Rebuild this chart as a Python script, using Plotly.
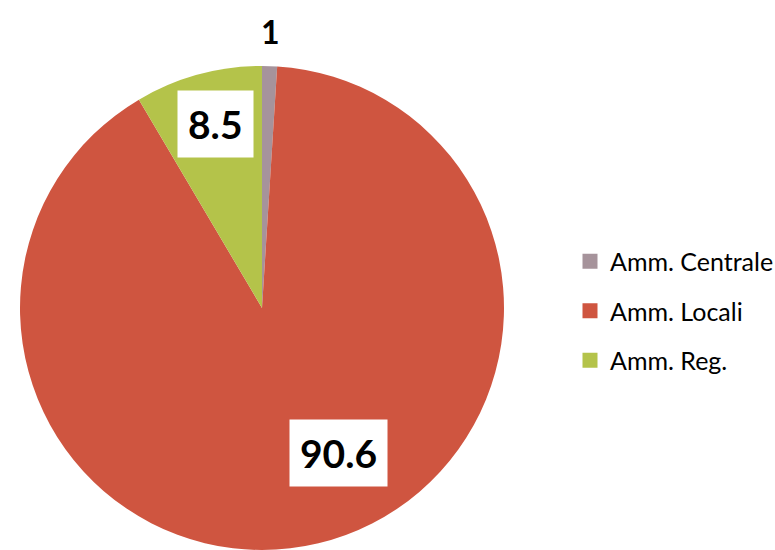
import plotly.graph_objects as go

# ---- data ----
categories = ["Amm. Centrale", "Amm. Locali", "Amm. Reg."]
values = [1, 90.6, 8.5]
value_labels = ["1", "90.6", "8.5"]

# ---- style ----
colors = ["#A6939B", "#CF5540", "#B4C34A"]
W, H = 775, 550
# label placement (pixel centres) and styling, per slice
label_pos = [(270, 31.5), (338, 453), (216, 124.5)]
label_size = [32, 39, 39]
label_bg = [None, "white", "white"]

fig = go.Figure()
fig.add_trace(go.Pie(
    labels=categories,
    values=values,
    sort=False,
    direction="clockwise",
    rotation=0,
    marker=dict(colors=colors, line=dict(width=0)),
    textinfo="none",
    hoverinfo="label+value",
    showlegend=False,
    domain=dict(x=[18 / W, 506 / W], y=[0, 1 - 66 / H]),
))

# legend entries (one group each, to control spacing)
for name, col in zip(categories, colors):
    fig.add_trace(go.Scatter(
        x=[None], y=[None], mode="markers", name=name,
        legendgroup=name,
        marker=dict(symbol="square", size=15, color=col),
        showlegend=True, hoverinfo="skip",
    ))

annotations = []
for txt, (px, py), fs, bg in zip(value_labels, label_pos, label_size, label_bg):
    a = dict(
        text=txt, x=px / W, y=1 - py / H, xref="paper", yref="paper",
        xanchor="center", yanchor="middle", showarrow=False,
        font=dict(family="Lato", size=fs, color="black", weight="bold"),
    )
    if bg:
        a.update(bgcolor=bg, borderpad=10)
    annotations.append(a)

fig.update_layout(
    width=W, height=H,
    margin=dict(l=0, r=0, t=0, b=0, autoexpand=False),
    paper_bgcolor="white", plot_bgcolor="white",
    xaxis=dict(visible=False), yaxis=dict(visible=False),
    legend=dict(
        x=570 / W, y=1 - 311 / H, xanchor="left", yanchor="middle",
        font=dict(family="Lato", size=25, color="black"),
        tracegroupgap=14, itemclick=False,
    ),
    annotations=annotations,
)

fig.write_html(
    "out.html",
    config={"displayModeBar": False},
    post_script="document.body.style.margin='0';document.body.style.overflow='hidden';",
)
